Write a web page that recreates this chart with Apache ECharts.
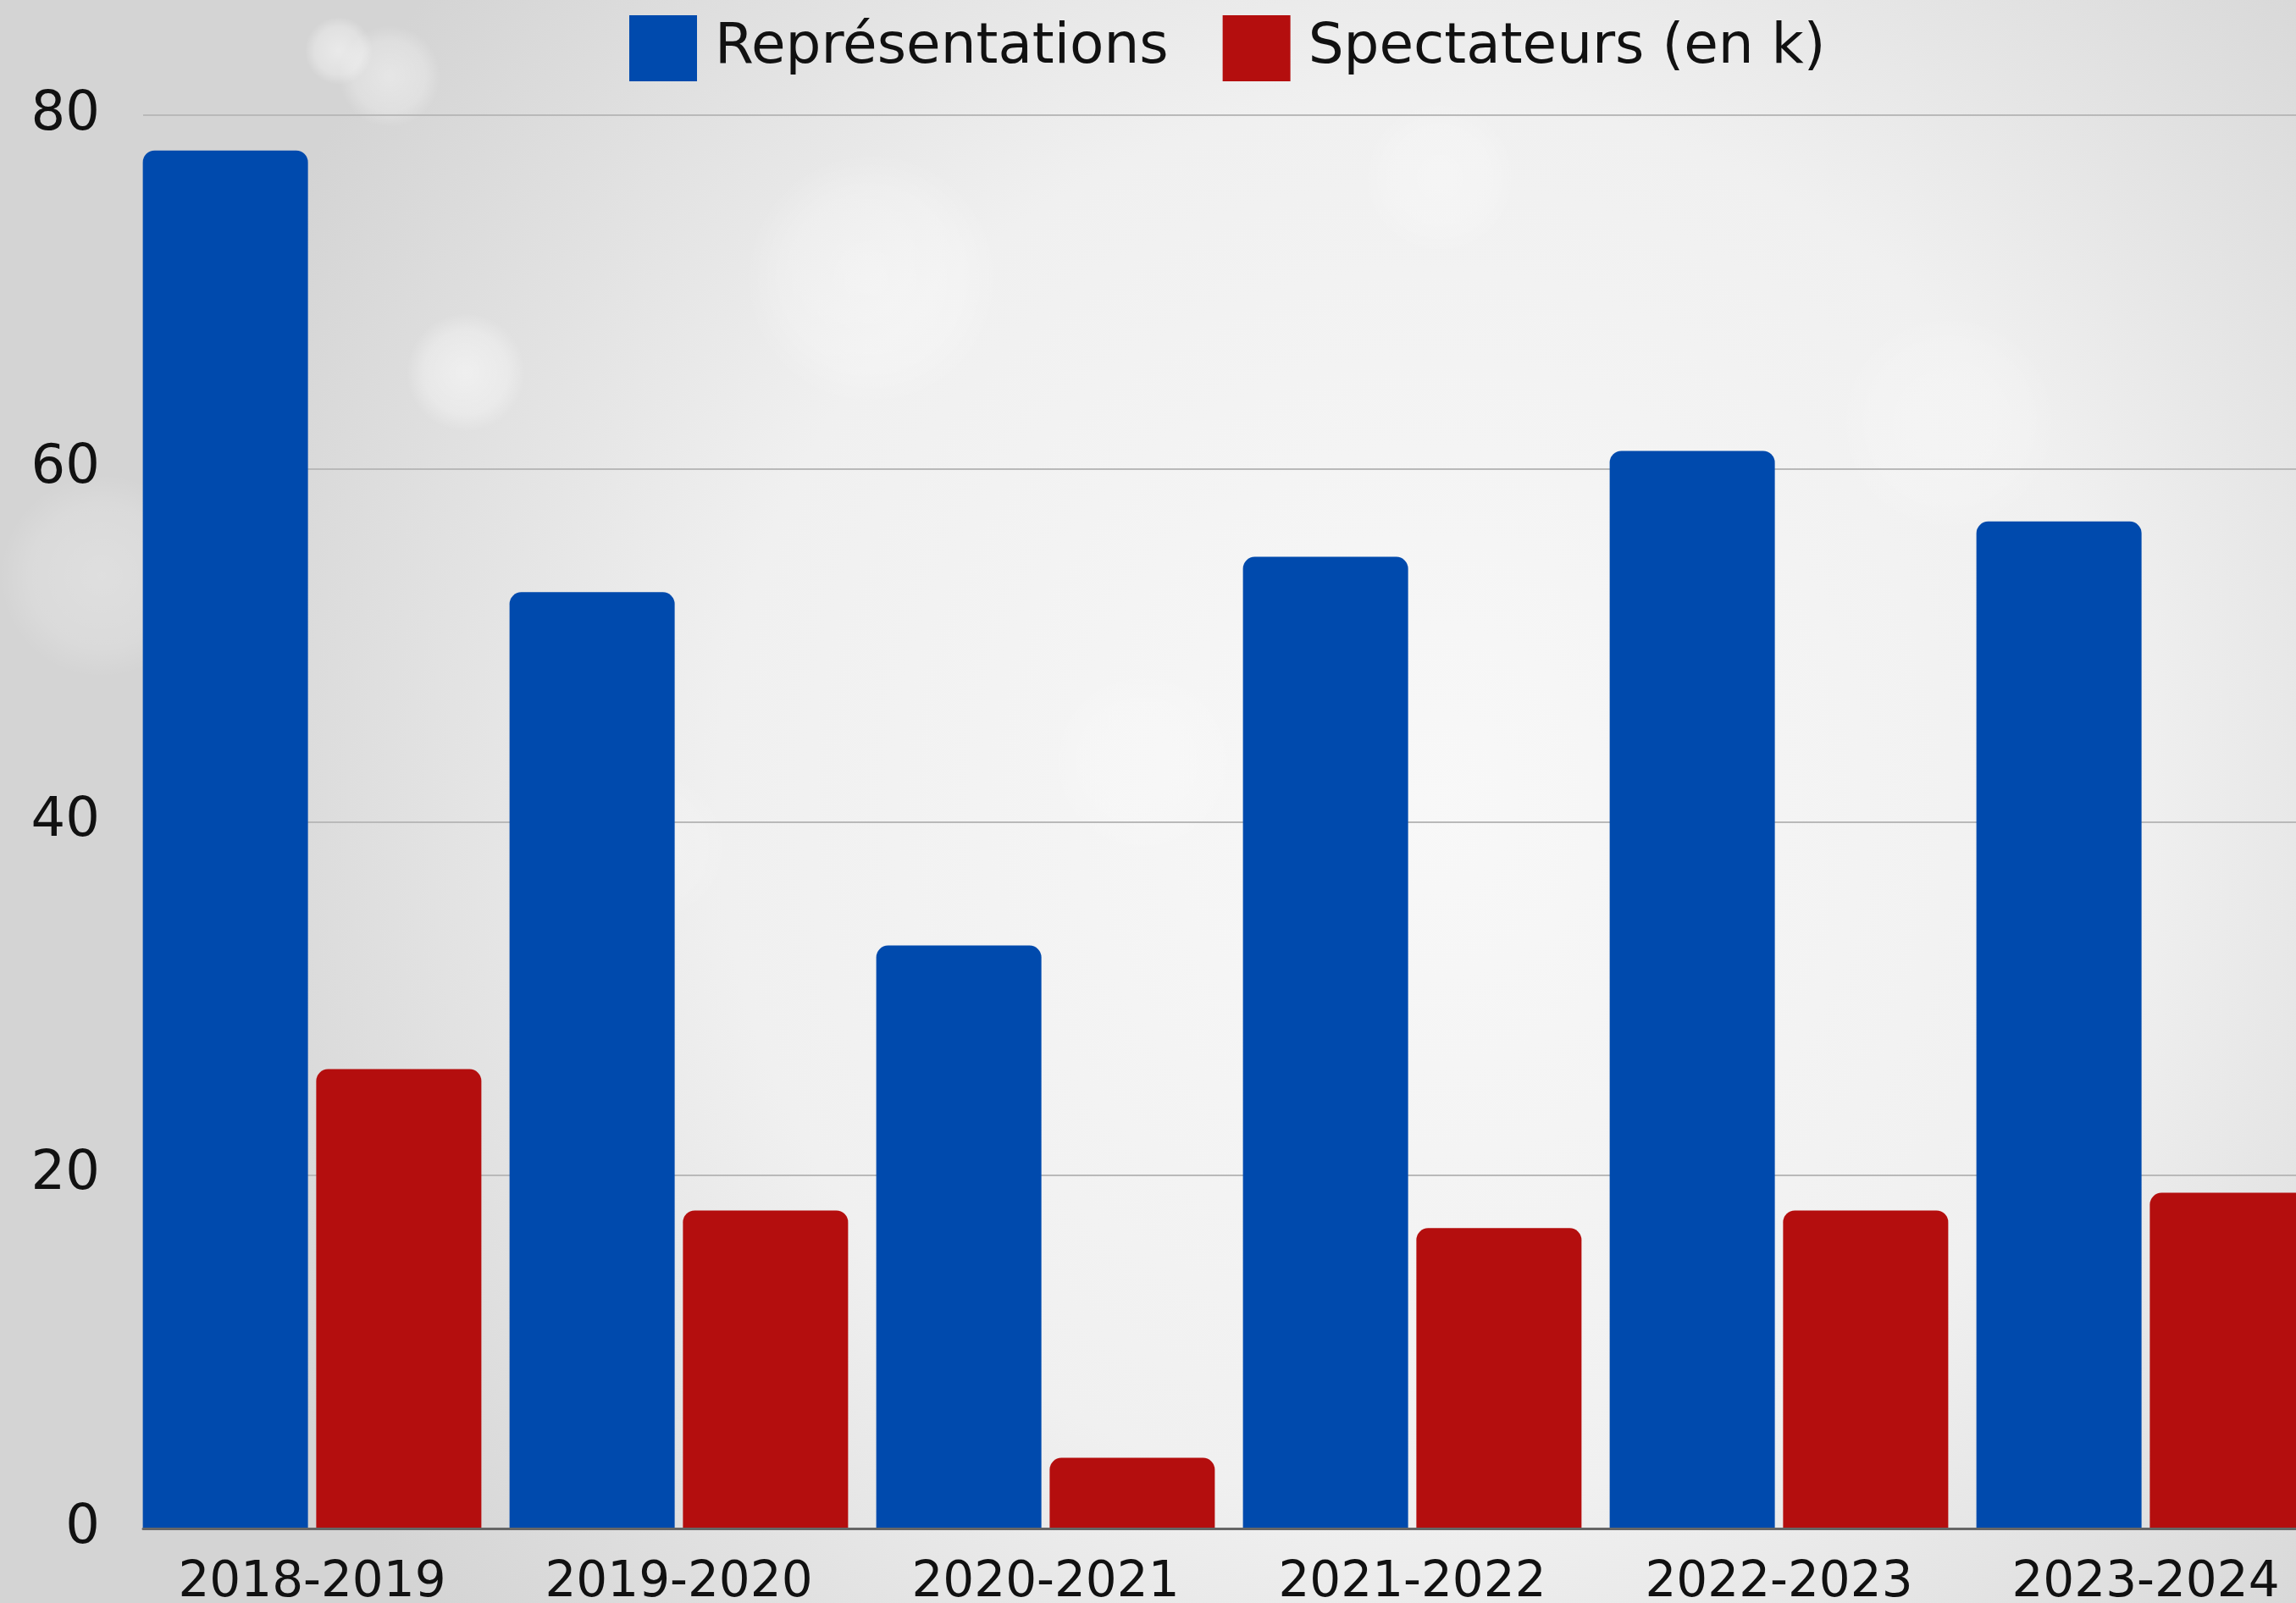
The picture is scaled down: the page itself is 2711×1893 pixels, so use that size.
<!DOCTYPE html>
<html>
<head>
<meta charset="utf-8">
<script src="https://cdn.jsdelivr.net/npm/echarts@6/dist/echarts.min.js"></script>
<style>
html,body{margin:0;padding:0;width:2711px;height:1893px;overflow:hidden;}
#chart{width:2711px;height:1893px;}
</style>
</head>
<body>
<div id="chart"></div>
<script>
const categories = ['2018-2019','2019-2020','2020-2021','2021-2022','2022-2023','2023-2024'];
const representations = [78, 53, 33, 55, 61, 57];
const spectateurs = [26, 18, 4, 17, 18, 19];
const seriesNames = ['Représentations', 'Spectateurs (en k)'];
const yTicks = {min: 0, max: 80, interval: 20};

const FONT = '"DejaVu Sans", sans-serif';
const chart = echarts.init(document.getElementById('chart'));

function bokeh(cx, cy, r, op) {
  return {
    type: 'circle', silent: true, z: -10,
    shape: {cx: cx, cy: cy, r: r},
    style: {fill: {type: 'radial', x: 0.5, y: 0.5, r: 0.5, colorStops: [
      {offset: 0, color: 'rgba(255,255,255,' + op + ')'},
      {offset: 0.7, color: 'rgba(255,255,255,' + (op * 0.6) + ')'},
      {offset: 1, color: 'rgba(255,255,255,0)'}
    ]}}
  };
}

chart.setOption({
  backgroundColor: {
    type: 'radial', x: 0.62, y: 0.5, r: 0.8,
    colorStops: [
      {offset: 0, color: '#f8f8f8'},
      {offset: 0.55, color: '#f0f0f0'},
      {offset: 1, color: '#d4d4d4'}
    ]
  },
  animation: false,
  graphic: [
    bokeh(550, 440, 70, 0.5), bokeh(1030, 330, 150, 0.35), bokeh(460, 90, 60, 0.4),
    bokeh(1700, 210, 90, 0.3), bokeh(120, 680, 120, 0.25), bokeh(1350, 900, 110, 0.25),
    bokeh(2300, 500, 130, 0.25), bokeh(770, 1000, 90, 0.2), bokeh(400, 60, 40, 0.5)
  ],
  legend: {
    top: 13, left: 738,
    itemWidth: 80, itemHeight: 78, itemGap: 64,
    icon: 'rect',
    textStyle: {fontFamily: FONT, fontSize: 66, color: '#111', padding: [0, 0, 0, 16]},
    data: seriesNames
  },
  grid: [
    {left: 152, width: 2598, top: 136, bottom: 88, containLabel: false, outerBoundsMode: 'none'},
    {left: 169, width: 2560, top: 136, bottom: 88, containLabel: false, outerBoundsMode: 'none'}
  ],
  xAxis: [
    {
      type: 'category', gridIndex: 0,
      data: categories,
      axisLine: {show: false},
      axisTick: {show: false},
      axisLabel: {fontFamily: FONT, fontSize: 58, color: '#111', margin: 36}
    },
    {
      type: 'category', gridIndex: 1, data: categories, z: 5,
      axisLine: {show: true, lineStyle: {color: '#666', width: 3}},
      axisTick: {show: false}, axisLabel: {show: false}
    }
  ],
  yAxis: [
    {
      type: 'value', gridIndex: 0,
      min: yTicks.min, max: yTicks.max, interval: yTicks.interval,
      axisLine: {show: false},
      axisTick: {show: false},
      splitLine: {show: false},
      axisLabel: {fontFamily: FONT, fontSize: 64, color: '#111', margin: 34}
    },
    {
      type: 'value', gridIndex: 1,
      min: yTicks.min, max: yTicks.max, interval: yTicks.interval,
      axisLine: {show: false}, axisTick: {show: false}, axisLabel: {show: false},
      splitLine: {lineStyle: {color: '#b9b9b9', width: 2}}
    }
  ],
  series: [
    {
      name: seriesNames[0], type: 'bar', data: representations,
      xAxisIndex: 0, yAxisIndex: 0, z: 3,
      barWidth: 195, barGap: '5%', barCategoryGap: '7.6%',
      itemStyle: {color: '#004aad', borderRadius: [14, 14, 0, 0]}
    },
    {
      name: seriesNames[1], type: 'bar', data: spectateurs,
      xAxisIndex: 0, yAxisIndex: 0, z: 3,
      barWidth: 195,
      itemStyle: {color: '#b40e0e', borderRadius: [14, 14, 0, 0]}
    }
  ]
});
</script>
</body>
</html>
